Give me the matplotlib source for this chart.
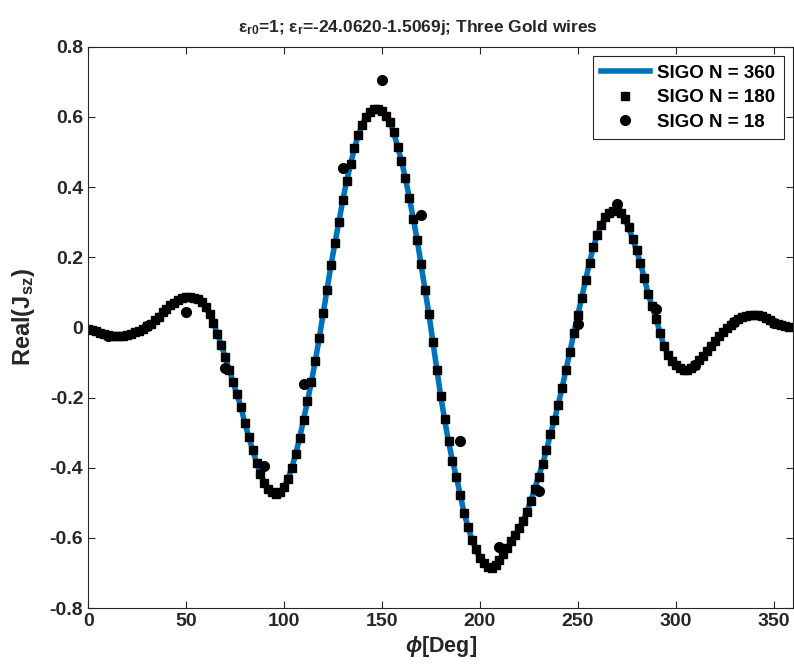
import matplotlib.pyplot as plt
import numpy as np

plt.rcParams['font.family'] = ['Liberation Sans', 'DejaVu Sans']
plt.rcParams['mathtext.fontset'] = 'custom'
plt.rcParams['mathtext.rm'] = 'Liberation Sans:bold'
plt.rcParams['mathtext.bf'] = 'Liberation Sans:bold'
plt.rcParams['mathtext.it'] = 'Liberation Sans:italic:bold'

# SIGO N = 180 (every 2 deg), also used for the N = 360 line
phi_180 = np.arange(0, 362, 2)
jsz_180 = [
    -0.005, -0.008, -0.011, -0.015, -0.018, -0.021, -0.023, -0.024, -0.024, -0.023,
    -0.021, -0.018, -0.014, -0.009, -0.003, 0.003, 0.010, 0.020, 0.031, 0.043,
    0.053, 0.063, 0.071, 0.078, 0.083, 0.086, 0.087, 0.085, 0.080, 0.072,
    0.058, 0.038, 0.013, -0.018, -0.050, -0.085, -0.120, -0.155, -0.190, -0.226,
    -0.272, -0.312, -0.348, -0.385, -0.418, -0.443, -0.460, -0.470, -0.474, -0.470,
    -0.455, -0.432, -0.400, -0.360, -0.315, -0.263, -0.210, -0.155, -0.095, -0.030,
    0.040, 0.108, 0.178, 0.240, 0.300, 0.362, 0.418, 0.465, 0.512, 0.550,
    0.578, 0.600, 0.615, 0.622, 0.624, 0.617, 0.604, 0.585, 0.557, 0.515,
    0.475, 0.425, 0.370, 0.310, 0.250, 0.180, 0.108, 0.038, -0.040, -0.120,
    -0.195, -0.262, -0.325, -0.380, -0.425, -0.478, -0.530, -0.570, -0.605, -0.632,
    -0.658, -0.672, -0.682, -0.685, -0.678, -0.662, -0.646, -0.628, -0.610, -0.592,
    -0.572, -0.552, -0.525, -0.495, -0.460, -0.425, -0.390, -0.350, -0.305, -0.265,
    -0.220, -0.172, -0.120, -0.070, -0.015, 0.035, 0.085, 0.135, 0.185, 0.230,
    0.265, 0.292, 0.315, 0.325, 0.333, 0.335, 0.325, 0.310, 0.285, 0.253,
    0.220, 0.183, 0.140, 0.094, 0.060, 0.025, -0.015, -0.052, -0.078, -0.095,
    -0.107, -0.115, -0.120, -0.121, -0.115, -0.106, -0.094, -0.081, -0.067, -0.053,
    -0.039, -0.025, -0.012, -0.002, 0.008, 0.016, 0.024, 0.030, 0.034, 0.036,
    0.036, 0.035, 0.032, 0.027, 0.021, 0.013, 0.009, 0.006, 0.003, 0.000,
    -0.005,
]

# SIGO N = 18
phi_18 = np.arange(10, 360, 20)
jsz_18 = [-0.025, 0.003, 0.045, -0.115, -0.395, -0.160, 0.455, 0.705, 0.322,
          -0.325, -0.625, -0.466, 0.010, 0.352, 0.052, -0.106, 0.016, 0.012]

fig = plt.figure(figsize=(7.94, 6.69), dpi=100)
ax = fig.add_axes([0.111, 0.091, 0.888, 0.839])

ax.plot(phi_180, jsz_180, color='#0072BD', lw=4, label='SIGO N = 360')
ax.plot(phi_180[:-1], jsz_180[:-1], 's', color='k', ms=6, label='SIGO N = 180')
ax.plot(phi_18, jsz_18, 'o', color='k', ms=7, label='SIGO N = 18')

ax.set_xlim(0, 360)
ax.set_ylim(-0.8, 0.8)
ax.set_xticks(np.arange(0, 351, 50))
ax.set_yticks(np.arange(-0.8, 0.81, 0.2))
ax.set_yticklabels(['-0.8', '-0.6', '-0.4', '-0.2', '0', '0.2', '0.4', '0.6', '0.8'])
ax.tick_params(direction='in', top=True, right=True, labelsize=14, length=5,
               color='#262626', labelcolor='#262626')
for lab in ax.get_xticklabels() + ax.get_yticklabels():
    lab.set_fontweight('bold')
for s in ax.spines.values():
    s.set_color('#262626')

ax.set_xlabel(r'$\phi$[Deg]', fontsize=15.5, fontweight='bold', color='#262626', labelpad=3)
ax.set_ylabel(r'Real(J$_{\mathrm{sz}}$)', fontsize=17, fontweight='bold', color='#262626')
ax.yaxis.set_label_coords(-0.072, 0.518)
ax.set_title(r'$\mathrm{\epsilon}_{\mathrm{r0}}$=1; $\mathrm{\epsilon}_{\mathrm{r}}$=-24.0620-1.5069j; Three Gold wires',
             fontsize=12.5, fontweight='bold', color='#262626', pad=11, x=0.467)

leg = ax.legend(loc='upper right', fancybox=False, edgecolor='#262626', framealpha=1,
                handlelength=2.6, prop={'weight': 'bold', 'size': 13.5},
                borderaxespad=0.5, labelspacing=0.4, borderpad=0.45, handletextpad=0.4)
leg.get_frame().set_linewidth(0.8)

fig.savefig('out.png', dpi=100)
